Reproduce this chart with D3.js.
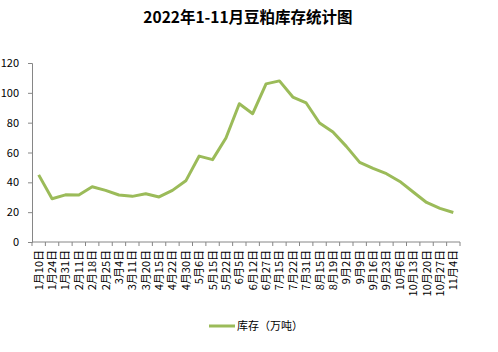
<!DOCTYPE html>
<html>
<head>
<meta charset="utf-8">
<script src="https://cdn.jsdelivr.net/npm/d3@7"></script>
<style>
  body { margin: 0; background: #fff; }
  text { font-family: "Noto Sans CJK SC", "DejaVu Sans", sans-serif; }
</style>
</head>
<body>
<div id="chart-area"></div>
<script>
var dates = ["1月10日", "1月24日", "1月31日", "2月11日", "2月18日", "2月25日", "3月4日", "3月11日",
    "3月20日", "4月15日", "4月22日", "4月30日", "5月6日", "5月15日", "5月22日", "6月5日",
    "6月12日", "6月27日", "7月15日", "7月22日", "7月31日", "8月15日", "8月19日", "9月2日",
    "9月9日", "9月16日", "9月23日", "10月6日", "10月13日", "10月20日", "10月27日", "11月4日"];
var stock = [45, 29, 31.6, 31.5, 37, 34.6, 31.5, 30.6, 32.4, 30.2, 34.6, 41, 57.6, 55.2, 69.7, 92.7,
    86, 106, 108, 97.2, 93.2, 79.8, 73.7, 64.1, 53.4, 49.3, 45.8, 40.6, 33.5, 26.5, 22.5, 19.8];
var yTicks = [0, 20, 40, 60, 80, 100, 120];

var W = 498, H = 352;
var margin = { top: 63, right: 38, bottom: 110, left: 32 };
var width = W - margin.left - margin.right;
var height = H - margin.top - margin.bottom;

var svg = d3.select("#chart-area")
    .append("svg")
    .attr("width", W)
    .attr("height", H);

svg.append("text")
    .attr("x", 248)
    .attr("y", 23)
    .attr("text-anchor", "middle")
    .attr("font-size", "15.5px")
    .attr("font-weight", "bold")
    .attr("fill", "#000")
    .text("2022年1-11月豆粕库存统计图");

var g = svg.append("g")
    .attr("transform", `translate(${margin.left}, ${margin.top})`);

var x = d3.scaleBand()
    .domain(dates)
    .range([0, width]);

var y = d3.scaleLinear()
    .domain([0, 120])
    .range([height, 0]);

// y axis
var yAxis = g.append("g")
    .call(d3.axisLeft(y).tickValues(yTicks).tickSize(4).tickPadding(9));
yAxis.select(".domain").attr("stroke", "#868686");
yAxis.selectAll(".tick line").attr("stroke", "#868686");
yAxis.selectAll("text")
    .attr("font-family", "'DejaVu Sans', sans-serif")
    .attr("font-size", "11px")
    .attr("fill", "#000");

// x axis: ticks between categories
var xAxis = g.append("g")
    .attr("transform", `translate(0, ${height})`);
xAxis.append("line")
    .attr("x1", 0).attr("x2", width)
    .attr("stroke", "#868686");
xAxis.selectAll(".xtick")
    .data(dates.concat(["end"]))
    .enter()
    .append("line")
    .attr("x1", (d, i) => i * x.step())
    .attr("x2", (d, i) => i * x.step())
    .attr("y1", 0).attr("y2", 4)
    .attr("stroke", "#868686");
xAxis.selectAll(".xlabel")
    .data(dates)
    .enter()
    .append("text")
    .attr("transform", d => `translate(${x(d) + x.bandwidth() / 2 + 4}, 8) rotate(-90)`)
    .attr("text-anchor", "end")
    .attr("font-size", "11px")
    .attr("fill", "#000")
    .text(d => d);

var line = d3.line()
    .x((d, i) => x(dates[i]) + x.bandwidth() / 2)
    .y(d => y(d));

g.append("path")
    .datum(stock)
    .attr("fill", "none")
    .attr("stroke", "#9BBB59")
    .attr("stroke-width", 3)
    .attr("stroke-linejoin", "round")
    .attr("d", line);

// legend
svg.append("line")
    .attr("x1", 209).attr("x2", 235)
    .attr("y1", 326).attr("y2", 326)
    .attr("stroke", "#9BBB59")
    .attr("stroke-width", 3);
svg.append("text")
    .attr("x", 237)
    .attr("y", 330)
    .attr("font-size", "11px")
    .attr("fill", "#000")
    .text("库存（万吨）");
</script>
</body>
</html>
